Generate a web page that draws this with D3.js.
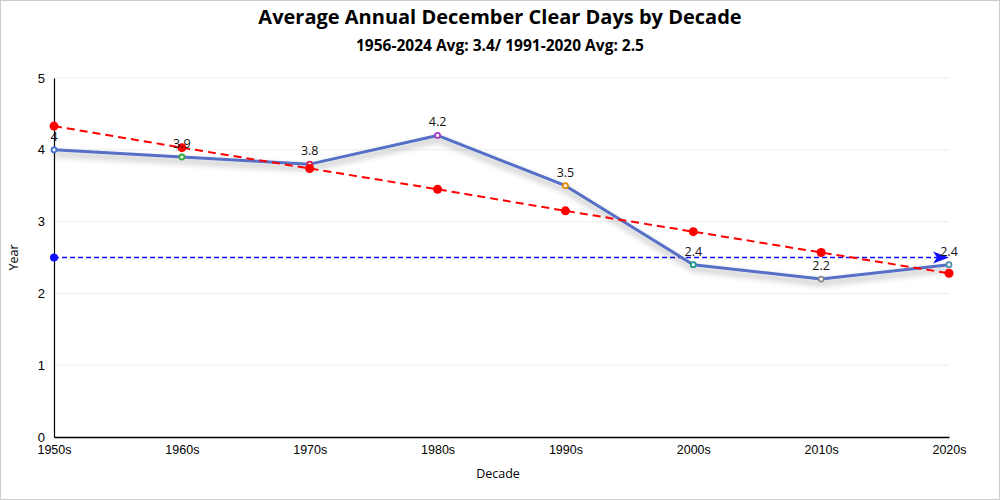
<!DOCTYPE html>
<html>
<head>
<meta charset="utf-8">
<script src="https://cdn.jsdelivr.net/npm/d3@7"></script>
<style>
  body { margin: 0; background: #fff; }
  svg { display: block; font-family: "Open Sans", "Noto Sans", sans-serif; }
</style>
</head>
<body>
<svg id="chart" width="1000" height="500"></svg>
<script>
const decades = ['1950s', '1960s', '1970s', '1980s', '1990s', '2000s', '2010s', '2020s'];
const clearDays = [4, 3.9, 3.8, 4.2, 3.5, 2.4, 2.2, 2.4];
const trendValues = [4.33, 4.03, 3.74, 3.45, 3.15, 2.86, 2.57, 2.28];
const normalAvg = 2.5;
const yTicks = [0, 1, 2, 3, 4, 5];
const pointColors = ['#3f6fd6', '#2fae3a', '#d11f4f', '#a43cc4', '#e68a00', '#1a9a8a', '#8a8a8a', '#4f8fa8'];

const width = 1000, height = 500;
const margin = { top: 78, right: 51, bottom: 63, left: 54 };

const svg = d3.select('#chart');

// outer border
svg.append('rect')
  .attr('x', 0.5).attr('y', 0.5)
  .attr('width', width - 1).attr('height', height - 1)
  .attr('fill', '#fff').attr('stroke', '#ccc');

const defs = svg.append('defs');
const shadow = defs.append('filter').attr('id', 'shadow')
  .attr('x', '-5%').attr('y', '-20%').attr('width', '110%').attr('height', '160%');
shadow.append('feDropShadow')
  .attr('dx', 0).attr('dy', 4).attr('stdDeviation', 3)
  .attr('flood-color', '#000').attr('flood-opacity', 0.35);

const x = d3.scalePoint()
  .domain(decades)
  .range([margin.left, width - margin.right]);

const y = d3.scaleLinear()
  .domain([0, 5])
  .range([height - margin.bottom, margin.top]);

// title
svg.append('text')
  .attr('x', width / 2).attr('y', 24)
  .attr('text-anchor', 'middle')
  .attr('font-size', 20).attr('font-weight', 'bold').attr('fill', '#000')
  .text('Average Annual December Clear Days by Decade');

svg.append('text')
  .attr('x', width / 2).attr('y', 51)
  .attr('text-anchor', 'middle')
  .attr('font-size', 15.5).attr('font-weight', 'bold').attr('fill', '#000')
  .text('1956-2024 Avg: 3.4/ 1991-2020 Avg: 2.5');

// grid
svg.append('g')
  .selectAll('line')
  .data(yTicks.filter(d => d > 0))
  .join('line')
  .attr('x1', margin.left).attr('x2', width - margin.right)
  .attr('y1', d => y(d)).attr('y2', d => y(d))
  .attr('stroke', '#ddd').attr('stroke-dasharray', '1,1');

// axes
const xAxis = svg.append('g')
  .attr('transform', `translate(0,${height - margin.bottom})`)
  .call(d3.axisBottom(x).tickSize(0).tickPadding(8));
xAxis.select('.domain').attr('stroke', '#000').attr('stroke-width', 1.5);
xAxis.selectAll('text').attr('font-size', 12.5).attr('fill', '#000').attr('font-family', null);

const yAxis = svg.append('g')
  .attr('transform', `translate(${margin.left},0)`)
  .call(d3.axisLeft(y).tickValues(yTicks).tickFormat(d3.format('d')).tickSize(0).tickPadding(9));
yAxis.select('.domain').attr('stroke', '#000').attr('stroke-width', 1.2);
yAxis.selectAll('text').attr('font-size', 13).attr('fill', '#000').attr('font-family', null);

svg.append('text')
  .attr('x', width / 2 - 2).attr('y', 478)
  .attr('text-anchor', 'middle').attr('font-size', 12.5).attr('fill', '#000')
  .text('Decade');

svg.append('text')
  .attr('transform', `translate(18,${y(2.5)}) rotate(-90)`)
  .attr('text-anchor', 'middle').attr('font-size', 12.5).attr('fill', '#000')
  .text('Year');

// avg line with arrowhead
const avgY = y(normalAvg);
const xEnd = x(decades[decades.length - 1]);
svg.append('line')
  .attr('x1', x(decades[0])).attr('x2', xEnd - 8)
  .attr('y1', avgY).attr('y2', avgY)
  .attr('stroke', '#1010ff').attr('stroke-width', 1.6)
  .attr('stroke-dasharray', '5,3');
svg.append('path')
  .attr('d', `M${xEnd},${avgY} L${xEnd - 16},${avgY - 6} L${xEnd - 12},${avgY} L${xEnd - 16},${avgY + 6} Z`)
  .attr('fill', '#1010ff');
svg.append('circle')
  .attr('cx', x(decades[0])).attr('cy', avgY).attr('r', 4)
  .attr('fill', '#1010ff');

// main line
const line = d3.line()
  .x((d, i) => x(decades[i]))
  .y(d => y(d));

svg.append('path')
  .datum(clearDays)
  .attr('d', line)
  .attr('fill', 'none')
  .attr('stroke', '#5470c6').attr('stroke-width', 3)
  .attr('stroke-linejoin', 'round')
  .attr('filter', 'url(#shadow)');

svg.append('g')
  .selectAll('circle')
  .data(clearDays)
  .join('circle')
  .attr('cx', (d, i) => x(decades[i]))
  .attr('cy', d => y(d))
  .attr('r', 2.5)
  .attr('fill', '#fff')
  .attr('stroke', (d, i) => pointColors[i])
  .attr('stroke-width', 1.8);

// trend line
svg.append('path')
  .datum(trendValues)
  .attr('d', line)
  .attr('fill', 'none')
  .attr('stroke', '#ff0000').attr('stroke-width', 2)
  .attr('stroke-dasharray', '8,5');

svg.append('g')
  .selectAll('circle')
  .data(trendValues)
  .join('circle')
  .attr('cx', (d, i) => x(decades[i]))
  .attr('cy', d => y(d))
  .attr('r', 4.5)
  .attr('fill', '#ff0000');

// labels
svg.append('g')
  .selectAll('text')
  .data(clearDays)
  .join('text')
  .attr('x', (d, i) => x(decades[i]))
  .attr('y', d => y(d) - 9)
  .attr('text-anchor', 'middle')
  .attr('font-size', 12.5).attr('fill', '#111')
  .text(d => d);
</script>
</body>
</html>
